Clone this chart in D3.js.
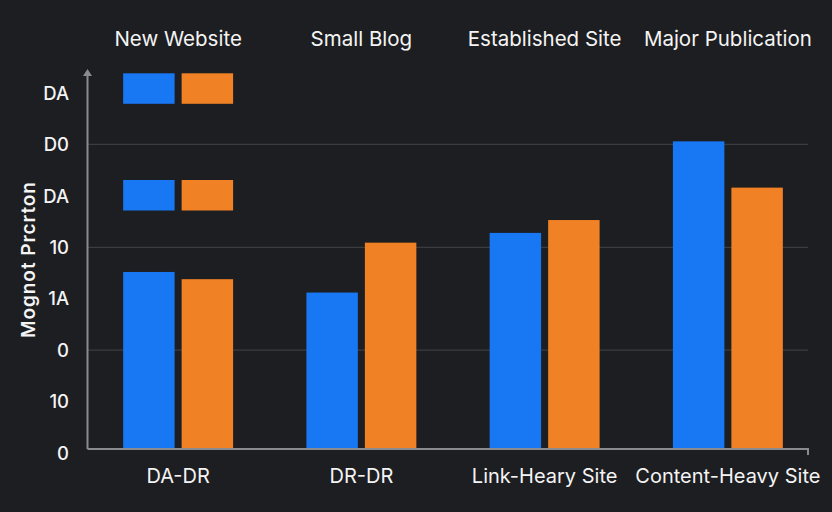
<!DOCTYPE html>
<html>
<head>
<meta charset="utf-8">
<script src="https://cdn.jsdelivr.net/npm/d3@7"></script>
<style>
  html, body { margin: 0; padding: 0; background: #1d1e21; }
  svg { display: block; }
</style>
</head>
<body>
<div id="container"></div>
<script>
const categories = ["DA-DR", "DR-DR", "Link-Heary Site", "Content-Heavy Site"];
const topLabels = ["New Website", "Small Blog", "Established Site", "Major Publication"];
const series = ["blue", "orange"];
const blueValues = [35.2, 31.2, 42.8, 60.6];
const orangeValues = [33.8, 40.9, 45.3, 51.6];
const tickValues = [0, 10, 20, 30, 40, 50, 60, 70];
const tickLabels = ["0", "10", "0", "1A", "10", "DA", "D0", "DA"];
const gridValues = [20, 40, 60];
const yTitle = "Mognot Prcrton";

const width = 832;
const height = 512;
const axisx = 87.5
const baseline = 449
const axisright = 808
const colors = {blue: "#1877f2", orange: "#f08125"}
const textcolor = "#f4f4f4"
const axiscolor = "#8a8b8d"
const gridcolor = "#3a3c40"
const font = "Inter, 'Noto Sans', sans-serif"

const svg = d3.select("#container").append("svg").attr("width", width).attr("height", height);

svg.append("rect").attr("width", width).attr("height", height).attr("fill", "#1d1e21");

const y = d3.scaleLinear().domain([0, 70]).range([453, 93]);

const x = d3.scaleBand().domain(categories).range([92, 814]).paddingInner(0.4).paddingOuter(0.17);
const xSub = d3.scaleBand().domain(series).range([0, x.bandwidth()]).paddingInner(0.12);

// gridlines
svg.selectAll(".grid")
  .data(gridValues)
  .enter().append("line")
  .attr("class", "grid")
  .attr("x1", axisx).attr("x2", axisright)
  .attr("y1", d => y(d)).attr("y2", d => y(d))
  .attr("stroke", gridcolor).attr("stroke-width", 1.2);

// tick labels
svg.selectAll(".ytick")
  .data(tickValues)
  .enter().append("text")
  .attr("class", "ytick")
  .attr("x", 69)
  .attr("y", (d) => y(d))
  .attr("dy", "0.36em")
  .attr("text-anchor", "end")
  .attr("fill", textcolor)
  .style("font-family", font).style("font-size", "18.5px").style("font-weight", 500)
  .text((d, i) => tickLabels[i]);

// y title
svg.append("text")
  .attr("transform", "translate(28," + (baseline - 189) + ") rotate(-90)")
  .attr("text-anchor", "middle")
  .attr("dy", "0.36em")
  .attr("fill", textcolor)
  .attr("textLength", 156).attr("lengthAdjust", "spacing")
  .style("font-family", font).style("font-size", "19px").style("font-weight", 600)
  .text(yTitle);

// bars
const rows = categories.map((c, i) => ({cat: c, blue: blueValues[i], orange: orangeValues[i]}));

const groups = svg.selectAll(".group")
  .data(rows)
  .enter().append("g")
  .attr("class", "group")
  .attr("transform", d => "translate(" + x(d.cat) + ",0)");

groups.selectAll("rect")
  .data(d => series.map(s => ({key: s, value: d[s]})))
  .enter().append("rect")
  .attr("x", d => xSub(d.key))
  .attr("y", d => y(d.value))
  .attr("width", xSub.bandwidth())
  .attr("height", d => baseline - y(d.value))
  .attr("fill", d => colors[d.key]);

// legend-like swatches over the first group
const swatchTops = [73.3, 180];
swatchTops.forEach(top => {
  series.forEach(s => {
    svg.append("rect")
      .attr("x", x(categories[0]) + xSub(s))
      .attr("y", top)
      .attr("width", xSub.bandwidth())
      .attr("height", 30.5)
      .attr("fill", colors[s]);
  });
});

// axes
svg.append("line")
  .attr("x1", axisx).attr("x2", axisx)
  .attr("y1", baseline).attr("y2", 74)
  .attr("stroke", axiscolor).attr("stroke-width", 2);
svg.append("path")
  .attr("d", `M${axisx - 4.5},76 L${axisx},69 L${axisx + 4.5},76 Z`)
  .attr("fill", axiscolor);

svg.append("path")
  .attr("d", `M${axisx},${baseline} L${axisright},${baseline} L${axisright},${baseline + 6}`)
  .attr("fill", "none")
  .attr("stroke", axiscolor).attr("stroke-width", 2);

// category labels
svg.selectAll(".xlabel")
  .data(categories)
  .enter().append("text")
  .attr("class", "xlabel")
  .attr("x", d => x(d) + x.bandwidth() / 2)
  .attr("y", 476)
  .attr("dy", "0.36em")
  .attr("text-anchor", "middle")
  .attr("fill", textcolor)
  .style("font-family", font).style("font-size", "20px")
  .text(d => d);

svg.selectAll(".toplabel")
  .data(topLabels)
  .enter().append("text")
  .attr("class", "toplabel")
  .attr("x", (d, i) => x(categories[i]) + x.bandwidth() / 2)
  .attr("y", 39)
  .attr("dy", "0.36em")
  .attr("text-anchor", "middle")
  .attr("fill", textcolor)
  .style("font-family", font).style("font-size", "20.5px")
  .text(d => d);
</script>
</body>
</html>
